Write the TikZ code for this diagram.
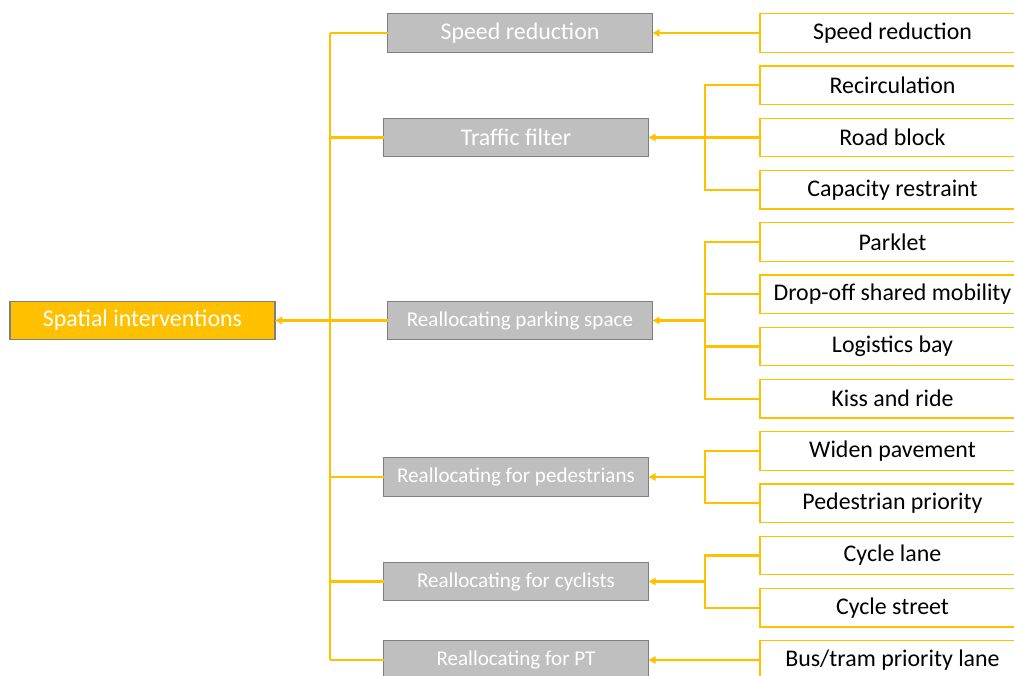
\documentclass[tikz,border=0pt]{standalone}
\usepackage{fontspec}
\setmainfont{Carlito}
\usepackage{tikz}
\usetikzlibrary{arrows.meta,positioning}
\definecolor{amber}{HTML}{FFC000}
\definecolor{boxgray}{HTML}{BFBFBF}
\definecolor{edgegray}{HTML}{7F7F7F}

\begin{document}
\begin{tikzpicture}[
    >={Triangle[length=4pt,width=4pt]},
    node distance=0.275cm,
    topic/.style={draw=edgegray, line width=0.8pt, rectangle, fill=amber,
        minimum width=5.3cm, minimum height=0.77cm, inner ysep=1pt, outer sep=0pt,
        text=white, font=\fontsize{13.6}{16}\selectfont},
    measure/.style={draw=edgegray, line width=0.8pt, rectangle, fill=boxgray,
        minimum width=5.3cm, minimum height=0.77cm, inner ysep=1pt, outer sep=0pt,
        text=white, font=\fontsize{13.6}{16}\selectfont},
    smallmeasure/.style={measure, font=\fontsize{12}{14}\selectfont},
    option/.style={draw=amber, line width=0.8pt, rectangle, fill=white,
        minimum width=5.3cm, minimum height=0.77cm, inner ysep=1pt, outer sep=0pt,
        text=black, font=\fontsize{13.6}{16}\selectfont},
    link/.style={draw=amber, line width=1.4pt},
    feed/.style={link, ->, color=amber}
]
\useasboundingbox (0,0) rectangle (20.28,-13.52);
\clip (0,0) rectangle (20.28,-13.52);

\node[topic] (root) at (2.85,-6.41) {Spatial interventions};

\node[measure] (M1) at (10.4,-0.66) {Speed reduction};
\node[measure] (M2) at (10.32,-2.75) {Traffic filter};
\node[smallmeasure] (M3) at (10.4,-6.41) {Reallocating parking space};
\node[smallmeasure] (M4) at (10.32,-9.54) {Reallocating for pedestrians};
\node[smallmeasure] (M5) at (10.32,-11.63) {Reallocating for cyclists};
\node[smallmeasure] (M6) at (10.32,-13.2) {Reallocating for PT};

\node[option] (S1) at (17.85,-0.66) {Speed reduction};
\node[option, below=of S1] (S2) {Recirculation};
\node[option, below=of S2] (S3) {Road block};
\node[option, below=of S3] (S4) {Capacity restraint};
\node[option, below=of S4] (S5) {Parklet};
\node[option, below=of S5] (S6) {Drop-off shared mobility};
\node[option, below=of S6] (S7) {Logistics bay};
\node[option, below=of S7] (S8) {Kiss and ride};
\node[option, below=of S8] (S9) {Widen pavement};
\node[option, below=of S9] (S10) {Pedestrian priority};
\node[option, below=of S10] (S11) {Cycle lane};
\node[option, below=of S11] (S12) {Cycle street};
\node[option, below=of S12] (S13) {Bus/tram priority lane};

\coordinate (trunk) at (6.6,0);
\coordinate (brk) at (14.1,0);

\draw[link] (M1.west -| trunk) -- (M6.west -| trunk);
\draw[link] (M1.west) -- (M1.west -| trunk);
\draw[link] (M2.west) -- (M2.west -| trunk);
\draw[link] (M4.west) -- (M4.west -| trunk);
\draw[link] (M5.west) -- (M5.west -| trunk);
\draw[link] (M6.west) -- (M6.west -| trunk);
\draw[feed] (M3.west) -- (root.east);

\draw[feed] (S1.west) -- (M1.east);
\draw[feed] (S13.west) -- (M6.east);

\draw[link] (S2.west) -- (S2.west -| brk) -- (S4.west -| brk) -- (S4.west);
\draw[link] (S3.west) -- (S3.west -| brk);
\draw[feed] (M2.east -| brk) -- (M2.east);

\draw[link] (S5.west) -- (S5.west -| brk) -- (S8.west -| brk) -- (S8.west);
\draw[link] (S6.west) -- (S6.west -| brk);
\draw[link] (S7.west) -- (S7.west -| brk);
\draw[feed] (M3.east -| brk) -- (M3.east);

\draw[link] (S9.west) -- (S9.west -| brk) -- (S10.west -| brk) -- (S10.west);
\draw[feed] (M4.east -| brk) -- (M4.east);

\draw[link] (S11.west) -- (S11.west -| brk) -- (S12.west -| brk) -- (S12.west);
\draw[feed] (M5.east -| brk) -- (M5.east);

\end{tikzpicture}
\end{document}
